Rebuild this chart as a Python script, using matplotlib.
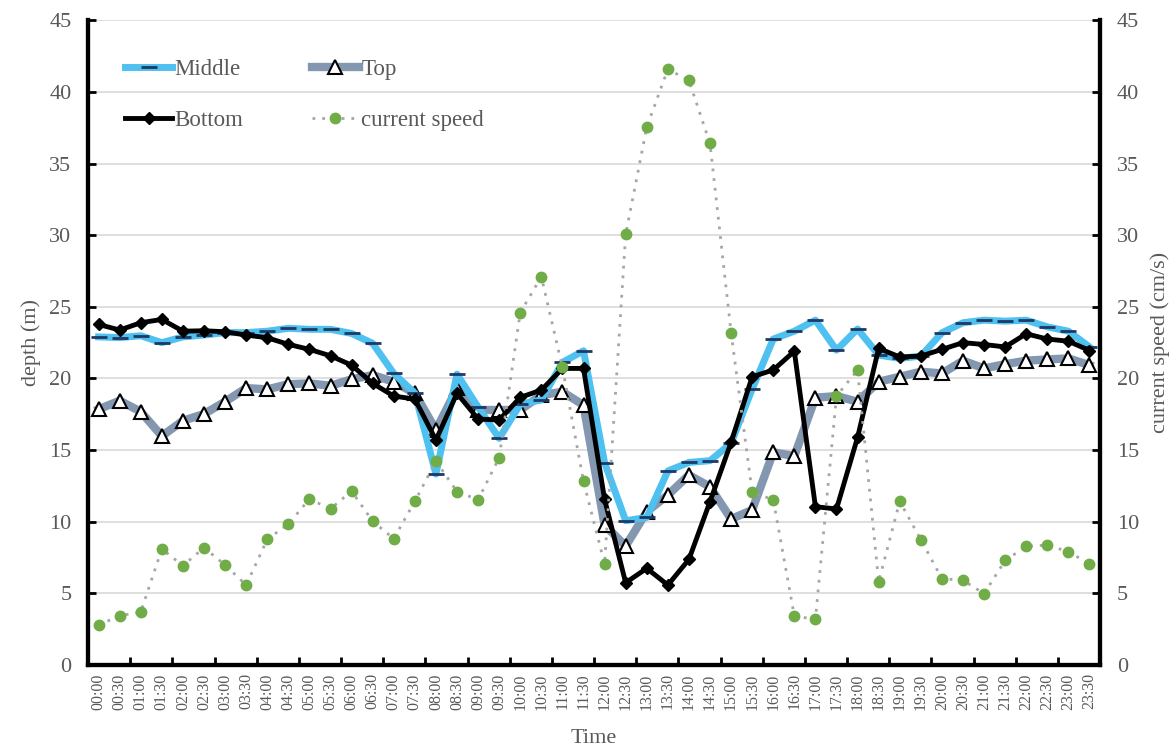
import matplotlib
matplotlib.use("Agg")
import matplotlib.pyplot as plt
from matplotlib.ticker import MultipleLocator, FixedLocator

plt.rcParams['font.family'] = ['Liberation Serif', 'DejaVu Serif']

times = [f"{h:02d}:{m:02d}" for h in range(24) for m in (0, 30)]

middle = [22.9, 22.85, 22.98, 22.5, 22.9, 23.03, 23.2, 23.2, 23.3, 23.5, 23.43, 23.43,
          23.14, 22.45, 20.35, 18.98, 13.33, 20.3, 18.0, 15.82, 18.2, 18.5, 21.12, 21.93,
          14.12, 10.07, 10.3, 13.54, 14.14, 14.26, 15.47, 19.26, 22.75, 23.3, 24.07, 21.98,
          23.45, 21.63, 21.4, 21.56, 23.19, 23.89, 24.07, 24.0, 24.07, 23.6, 23.3, 22.2]

top = [17.85, 18.45, 17.68, 15.98, 17.05, 17.52, 18.38, 19.33, 19.24, 19.6, 19.66, 19.49,
       19.94, 20.24, 19.77, 18.96, 16.4, 19.3, 17.8, 17.8, 17.8, 18.84, 19.07, 18.14,
       9.77, 8.3, 10.7, 11.86, 13.26, 12.44, 10.19, 10.82, 14.85, 14.58, 18.66, 18.77,
       18.38, 19.77, 20.12, 20.47, 20.35, 21.24, 20.7, 21.0, 21.24, 21.33, 21.4, 20.93]

bottom = [23.77, 23.38, 23.89, 24.12, 23.3, 23.33, 23.26, 23.03, 22.84, 22.38, 22.03, 21.58,
          20.93, 19.66, 18.77, 18.56, 15.7, 18.96, 17.17, 17.1, 18.68, 19.19, 20.7, 20.7,
          11.56, 5.74, 6.75, 5.58, 7.37, 11.4, 15.54, 20.12, 20.59, 21.9, 11.05, 10.89,
          15.89, 22.1, 21.5, 21.56, 22.03, 22.5, 22.37, 22.2, 23.12, 22.75, 22.6, 21.95]

speed = [2.79, 3.44, 3.7, 8.1, 6.93, 8.19, 6.98, 5.58, 8.77, 9.84, 11.58, 10.9,
         12.14, 10.03, 8.82, 11.42, 14.23, 12.1, 11.54, 14.47, 24.6, 27.1, 20.77, 12.82,
         7.05, 30.05, 37.54, 41.59, 40.8, 36.4, 23.2, 12.05, 11.54, 3.42, 3.19, 18.77,
         20.59, 5.81, 11.42, 8.75, 6.03, 5.91, 4.98, 7.3, 8.28, 8.37, 7.91, 7.05]

x = list(range(len(times)))
gray_txt = '#595959'

fig = plt.figure(figsize=(11.74, 7.51), dpi=100)
ax = fig.add_axes([0.075, 0.1145, 0.862, 0.8585])
ax2 = ax.twinx()

l_mid, = ax.plot(x, middle, color='#4FC1F0', lw=5, marker='_', ms=11, mew=2,
                 mec='#1F3864', label='Middle', zorder=3)
l_top, = ax.plot(x, top, color='#8497B0', lw=6, marker='^', ms=10, mfc='white',
                 mec='black', mew=1.5, label='Top', zorder=2)
l_bot, = ax.plot(x, bottom, color='black', lw=3.5, marker='D', ms=6, label='Bottom', zorder=4)
l_spd, = ax2.plot(x, speed, color='#A6A6A6', lw=2, ls=(0, (1, 2.5)), marker='o', ms=7.5,
                  mfc='#70AD47', mec='#70AD47', label='current speed')

for a in (ax, ax2):
    a.set_ylim(0, 45)
    a.yaxis.set_major_locator(MultipleLocator(5))
    a.set_xlim(-0.5, len(times) - 0.5)
    a.tick_params(axis='y', direction='in', length=6, width=2, labelsize=16,
                  labelcolor=gray_txt, pad=12)

ax.grid(axis='y', color='#D9D9D9', lw=1.2)
ax.set_axisbelow(True)

ax.set_xticks(x)
ax.set_xticklabels(times, rotation=90, fontsize=11.5, color=gray_txt)
ax.tick_params(axis='x', which='major', length=0, pad=6)
ax.xaxis.set_minor_locator(FixedLocator([i - 0.5 for i in range(0, len(times) + 1, 2)]))
ax.tick_params(axis='x', which='minor', direction='in', length=6, width=2)

for a in (ax, ax2):
    a.spines['top'].set_visible(False)
    for s in ('left', 'right', 'bottom'):
        a.spines[s].set_linewidth(3)
        a.spines[s].set_color('black')

ax.set_ylabel('depth (m)', fontsize=16, color=gray_txt, labelpad=6)
ax2.set_ylabel('current speed (cm/s)', fontsize=16, color=gray_txt, labelpad=8)
ax.set_xlabel('Time', fontsize=16, color=gray_txt, labelpad=14)

leg = ax.legend(handles=[l_mid, l_bot, l_top, l_spd], ncol=2, loc='upper left',
                bbox_to_anchor=(0.0366, 0.94), frameon=False, fontsize=16.5,
                labelcolor=gray_txt, handlelength=2.05, handletextpad=0.1,
                columnspacing=3.0, labelspacing=1.32, borderpad=0, borderaxespad=0)
leg.set_zorder(10)

fig.savefig('out.png', dpi=100)
